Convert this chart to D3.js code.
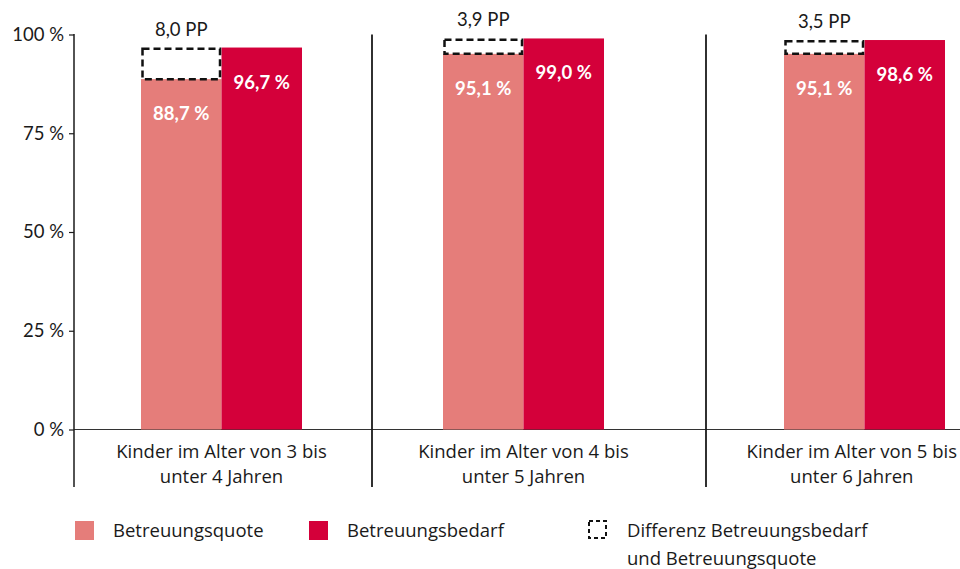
<!DOCTYPE html>
<html><head><meta charset="utf-8">
<script src="https://cdn.jsdelivr.net/npm/d3@7"></script>
<style>
html,body{margin:0;padding:0;background:#fff;}
svg{display:block;font-family:"Open Sans",Lato,sans-serif;}
</style></head>
<body><svg id="chart" width="960" height="569"></svg>
<script>
const categoryLines = [
  ["Kinder im Alter von 3 bis", "unter 4 Jahren"],
  ["Kinder im Alter von 4 bis", "unter 5 Jahren"],
  ["Kinder im Alter von 5 bis", "unter 6 Jahren"]
];
const seriesNames = ["Betreuungsquote", "Betreuungsbedarf"];
const betreuungsquote = [88.7, 95.1, 95.1];
const betreuungsbedarf = [96.7, 99.0, 98.6];
const yTicks = [0, 25, 50, 75, 100];
const diffLegend = ["Differenz Betreuungsbedarf", "und Betreuungsquote"];

const colQuote = "#E57D7A", colBedarf = "#D4003A", ink = "#1a1a1a";
const fmt = v => d3.format(".1f")(v).replace(".", ",");
const textFont = "'Open Sans', sans-serif", numFont = "Lato, sans-serif";

const svg = d3.select("#chart");
const y = d3.scaleLinear().domain([0, 100]).range([429.5, 34.5]);
// piecewise group position scale: half-indices give separators
const x = d3.scaleLinear().domain([-0.5, 0, 0.5, 1, 1.5, 2]).range([74, 221.5, 372, 523.5, 706, 864.5]);
const inner = d3.scaleBand().domain(seriesNames).range([-80.5, 80.5]);

// baseline
svg.append("line").attr("x1", 74).attr("x2", 960).attr("y1", y(0)).attr("y2", y(0))
  .attr("stroke", "#333").attr("stroke-width", 1.2);

// y axis
const yAxis = d3.axisLeft(y).tickValues(yTicks).tickSize(5).tickPadding(5)
  .tickFormat(d => d + "\u202F%");
const ga = svg.append("g").attr("transform", "translate(74,0)").call(yAxis);
ga.select(".domain").remove();
ga.selectAll(".tick line").attr("stroke", ink).attr("stroke-width", 1.2);
ga.selectAll(".tick text").attr("font-size", 18.5).attr("fill", ink).attr("font-family", numFont);
svg.append("line").attr("x1", 74).attr("x2", 74).attr("y1", y(100) - 0.5).attr("y2", 487)
  .attr("stroke", ink).attr("stroke-width", 1.5);

// separators
[0.5, 1.5].forEach(s => {
  svg.append("line").attr("x1", x(s)).attr("x2", x(s)).attr("y1", y(100)).attr("y2", 487)
    .attr("stroke", ink).attr("stroke-width", 1.8);
});

const data = categoryLines.map((c, i) => ({i, quote: betreuungsquote[i], bedarf: betreuungsbedarf[i]}));

const g = svg.selectAll(".grp").data(data).join("g").attr("class", "grp")
  .attr("transform", d => `translate(${x(d.i)},0)`);

// bars
g.append("rect").attr("x", inner("Betreuungsquote")).attr("width", inner.bandwidth())
  .attr("y", d => y(d.quote)).attr("height", d => y(0) - y(d.quote)).attr("fill", colQuote);
g.append("rect").attr("x", inner("Betreuungsbedarf")).attr("width", inner.bandwidth())
  .attr("y", d => y(d.bedarf)).attr("height", d => y(0) - y(d.bedarf)).attr("fill", colBedarf);

// dashed difference box
g.append("rect").attr("x", inner("Betreuungsquote") + 1.5).attr("width", inner.bandwidth() - 3)
  .attr("y", d => y(d.bedarf) + 1.25).attr("height", d => y(d.quote) - y(d.bedarf) - 1.25)
  .attr("fill", "none").attr("stroke", "#111").attr("stroke-width", 2.5).attr("stroke-dasharray", "7,4");

// value labels
g.append("text").attr("x", inner("Betreuungsquote") + inner.bandwidth() / 2)
  .attr("y", d => y(d.quote) + 41).attr("text-anchor", "middle").attr("font-family", numFont)
  .attr("fill", "#fff").attr("font-weight", 700).attr("font-size", 18.5)
  .text(d => fmt(d.quote) + "\u202F%");
g.append("text").attr("x", inner("Betreuungsbedarf") + inner.bandwidth() / 2)
  .attr("y", d => y(d.bedarf) + 41).attr("text-anchor", "middle").attr("font-family", numFont)
  .attr("fill", "#fff").attr("font-weight", 700).attr("font-size", 18.5)
  .text(d => fmt(d.bedarf) + "\u202F%");

// PP labels
g.append("text").attr("x", inner("Betreuungsquote") + inner.bandwidth() / 2)
  .attr("y", d => y(d.bedarf) - 12).attr("text-anchor", "middle").attr("font-family", numFont)
  .attr("fill", ink).attr("font-size", 18.5)
  .text(d => fmt(d.bedarf - d.quote) + " PP");

// category labels
categoryLines.forEach((lines, i) => {
  const t = svg.append("text").attr("text-anchor", "middle").attr("font-size", 18.5)
    .attr("font-family", textFont).attr("fill", ink);
  lines.forEach((l, k) => t.append("tspan").attr("x", 0).attr("y", 458 + k * 25).text(l));
  const w = t.node().getBBox().width;
  const cx = Math.min(x(i), 960 - w / 2 - 3);
  t.attr("transform", `translate(${cx},0)`);
});

// legend
const lg = svg.append("g").attr("font-size", 18.5).attr("font-family", textFont).attr("fill", ink);
lg.append("rect").attr("x", 75).attr("y", 521).attr("width", 19).attr("height", 19).attr("fill", colQuote);
lg.append("text").attr("x", 113).attr("y", 537).text(seriesNames[0]);
lg.append("rect").attr("x", 309).attr("y", 521).attr("width", 19).attr("height", 19).attr("fill", colBedarf);
lg.append("text").attr("x", 347).attr("y", 537).text(seriesNames[1]);
lg.append("rect").attr("x", 589).attr("y", 521).attr("width", 17).attr("height", 17)
  .attr("fill", "none").attr("stroke", "#111").attr("stroke-width", 2).attr("stroke-dasharray", "4,3");
const dt = lg.append("text");
diffLegend.forEach((l, k) => dt.append("tspan").attr("x", 627).attr("y", 537 + k * 28).text(l));
</script>
</body></html>
